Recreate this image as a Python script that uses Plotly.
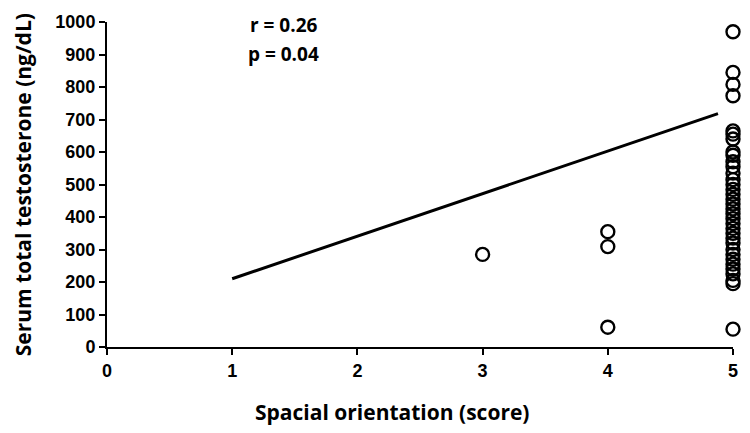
import plotly.graph_objects as go

# Data
x3 = [3]
y3 = [285]
x4 = [4, 4, 4]
y4 = [355, 309, 61]
y5 = [970, 845, 808, 773, 665, 655, 640, 600, 590, 570, 555, 535, 515, 500,
      485, 470, 455, 440, 425, 410, 395, 380, 365, 350, 335, 320, 300, 285,
      270, 255, 240, 225, 205, 195, 55]
x5 = [5] * len(y5)

scatter_x = x3 + x4 + x5
scatter_y = y3 + y4 + y5

fit_x = [1, 4.88]
fit_y = [210, 718]

x_ticks = [0, 1, 2, 3, 4, 5]
y_ticks = [0, 100, 200, 300, 400, 500, 600, 700, 800, 900, 1000]

fig = go.Figure()
fig.add_trace(go.Scatter(
    x=fit_x, y=fit_y, mode="lines",
    line=dict(color="black", width=3),
    showlegend=False, hoverinfo="skip",
))
fig.add_trace(go.Scatter(
    x=scatter_x, y=scatter_y, mode="markers",
    marker=dict(symbol="circle-open", size=13, color="black",
                line=dict(width=2.4, color="black")),
    cliponaxis=False, showlegend=False,
))

tickfont = dict(family="Liberation Sans, Arial, sans-serif", size=18,
                color="black")

fig.update_layout(
    width=750, height=433,
    margin=dict(l=107, r=17, t=18, b=86),
    paper_bgcolor="white", plot_bgcolor="white",
    xaxis=dict(
        range=[0, 5], tickvals=x_ticks,
        ticktext=["<b>%d</b>" % v for v in x_ticks],
        showgrid=False, zeroline=False, showline=True,
        linecolor="black", linewidth=2,
        ticks="outside", ticklen=6, tickwidth=2, tickcolor="black",
        tickfont=tickfont,
    ),
    yaxis=dict(
        range=[0, 1000], tickvals=y_ticks,
        ticktext=["<b>%d</b>" % v for v in y_ticks],
        showgrid=False, zeroline=False, showline=True,
        linecolor="black", linewidth=2,
        ticks="outside", ticklen=6, tickwidth=2, tickcolor="black",
        tickfont=tickfont,
    ),
    annotations=[
        dict(text="<b>Spacial orientation (score)</b>", x=0.455, y=-0.2,
             xref="paper", yref="paper", xanchor="center", yanchor="middle",
             showarrow=False,
             font=dict(family="Open Sans, sans-serif", size=21, color="black")),
        dict(text="<b>Serum total testosterone (ng/dL)</b>", x=-0.134,
             y=0.498, xref="paper", yref="paper", xanchor="center",
             yanchor="middle", textangle=-90, showarrow=False,
             font=dict(family="Open Sans, sans-serif", size=21, color="black")),
        dict(text="<b>r = 0.26</b>", x=0.226, y=0.99, xref="paper",
             yref="paper", xanchor="left", yanchor="middle", showarrow=False,
             font=dict(family="Open Sans, sans-serif", size=19, color="black")),
        dict(text="<b>p = 0.04</b>", x=0.222, y=0.9, xref="paper",
             yref="paper", xanchor="left", yanchor="middle", showarrow=False,
             font=dict(family="Open Sans, sans-serif", size=19, color="black")),
    ],
)

fig.write_html("out.html")
